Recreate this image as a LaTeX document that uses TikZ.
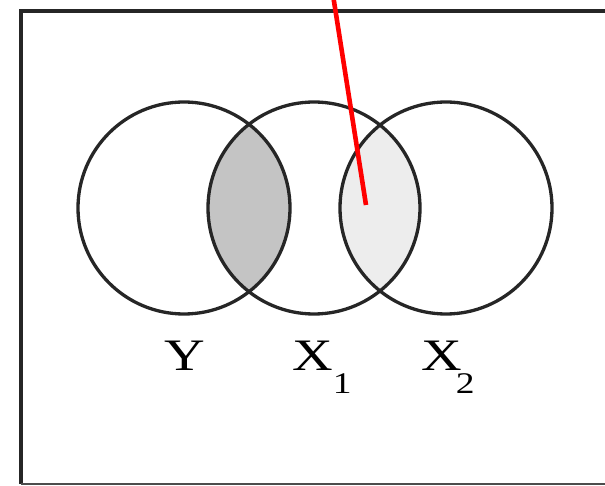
\documentclass[tikz,border=0pt]{standalone}
\usepackage{fontspec}
\setmainfont{Liberation Serif}
\newcommand{\widetext}[1]{\scalebox{1.25}[1]{#1}}
\newcommand{\subsize}{\fontsize{30}{30}\selectfont}
\begin{document}
\begin{tikzpicture}[x=1pt,y=-1pt,
  set/.style={circle,draw=black!85,line width=3.3pt,minimum size=212pt,inner sep=0pt},
  setlabel/.style={inner sep=0pt,font=\fontsize{45}{45}\selectfont}]
  \useasboundingbox (0,0) rectangle (605,486);
  \clip (0,0) rectangle (605,486);
  % frame
  \draw[black!85,line width=3.2pt] (21,484) -- (21,11) -- (620,11);
  \draw[black!70,line width=1.8pt] (21,484) -- (620,484);
  \coordinate (cY) at (184,208);
  \coordinate (cXa) at (314,208);
  \coordinate (cXb) at (446,208);
  % shaded overlaps
  \begin{scope}
    \clip (cY) circle (106pt);
    \fill[black!23] (cXa) circle (106pt);
  \end{scope}
  \begin{scope}
    \clip (cXa) circle (106pt);
    \fill[black!7] (cXb) circle (106pt);
  \end{scope}
  \node[set] (Y) at (cY) {};
  \node[set] (Xa) at (cXa) {};
  \node[set] (Xb) at (cXb) {};
  % pointer
  \coordinate (redtop) at (333,-5);
  \coordinate (redtip) at (366,205);
  \draw[red,line width=4.6pt] (redtop) -- (redtip);
  % labels
  \node[setlabel,anchor=base] (labY) at (185,370) {\widetext{Y}};
  \node[setlabel,anchor=base west] (labXa) at (292,370)
    {\widetext{X}\raisebox{-24pt}{\subsize\widetext{1}}};
  \node[setlabel,anchor=base west] (labXb) at (421,370)
    {\widetext{X}\kern-6pt\raisebox{-24pt}{\subsize\widetext{2}}};
\end{tikzpicture}
\end{document}
